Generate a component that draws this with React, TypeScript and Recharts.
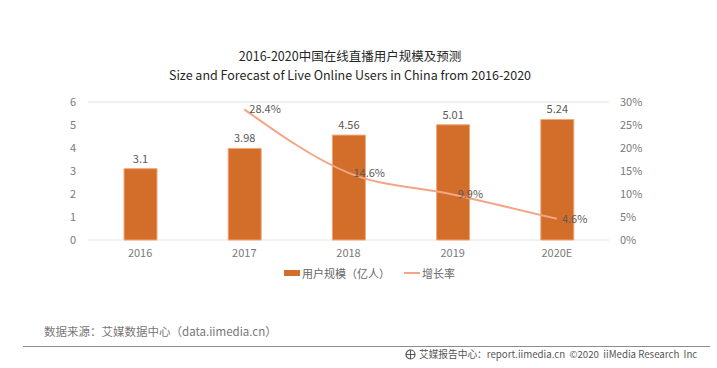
import React from 'react';
import { ComposedChart, Bar, Line, XAxis, YAxis, CartesianGrid, LabelList } from 'recharts';

const categories = ['2016', '2017', '2018', '2019', '2020E'];
const users = [3.1, 3.98, 4.56, 5.01, 5.24];
const growth: (number | null)[] = [null, 28.4, 14.6, 9.9, 4.6];
const leftTicks = [0, 1, 2, 3, 4, 5, 6];
const rightTicks = [0, 5, 10, 15, 20, 25, 30];

const data = categories.map((c, i) => ({ name: c, users: users[i], growth: growth[i] }));

const FONT = "'Noto Sans CJK SC', 'Noto Sans', sans-serif";
const BAR = '#D36D2A';
const LINE = '#F4A584';
const TICK = '#7a7a7a';

const LegendContent = () => (
  <div style={{ display: 'flex', alignItems: 'center', fontFamily: FONT, fontSize: 11, color: '#666' }}>
    <svg width={16} height={6} style={{ marginRight: 2 }}><rect x={0} y={0} width={16} height={6} fill={BAR} /></svg>
    <span>用户规模（亿人）</span>
    <svg width={16} height={6} style={{ marginLeft: 14, marginRight: 2 }}><line x1={0} y1={3} x2={16} y2={3} stroke={LINE} strokeWidth={2} /></svg>
    <span>增长率</span>
  </div>
);

export default function App() {
  return (
    <div style={{ position: 'absolute', left: 0, top: 0, width: 717, height: 368, background: '#fff', fontFamily: FONT }}>
      <div style={{ position: 'absolute', left: 0, width: 700, top: 48, textAlign: 'center', fontSize: 12.5, lineHeight: '15px', color: '#262626', whiteSpace: 'nowrap' }}>
        2016-2020中国在线直播用户规模及预测
      </div>
      <div style={{ position: 'absolute', left: 0, width: 700, top: 67, textAlign: 'center', fontSize: 12.5, lineHeight: '15px', color: '#262626', whiteSpace: 'nowrap' }}>
        Size and Forecast of Live Online Users in China from 2016-2020
      </div>
      <ComposedChart width={717} height={368} data={data} margin={{ top: 102, right: 58, bottom: 103, left: 58 }} barCategoryGap="34%">
        <CartesianGrid vertical={false} stroke="#E4E4E4" />
        <XAxis dataKey="name" axisLine={false} tickLine={false} tickSize={0} tickMargin={9} height={25} interval={0}
          tick={{ fontSize: 11, fill: TICK, fontFamily: FONT }} />
        <YAxis yAxisId="left" domain={[0, 6]} ticks={leftTicks} interval={0} width={30} axisLine={false} tickLine={false} tickSize={0} tickMargin={12}
          tick={{ fontSize: 11, fill: TICK, fontFamily: FONT }} />
        <YAxis yAxisId="right" orientation="right" domain={[0, 30]} ticks={rightTicks} interval={0} width={50} axisLine={false} tickLine={false} tickSize={0} tickMargin={11}
          tickFormatter={(v: number) => `${v}%`} tick={{ fontSize: 11, fill: TICK, fontFamily: FONT }} />
        <Bar yAxisId="left" dataKey="users" fill={BAR} stroke="#F2A777" strokeWidth={1} barSize={33} isAnimationActive={false}>
          <LabelList dataKey="users" position="top" offset={6} style={{ fontSize: 11, fill: '#595959', fontFamily: FONT }} />
        </Bar>
        <Line yAxisId="right" dataKey="growth" type="monotone" stroke={LINE} strokeWidth={2} dot={false} connectNulls isAnimationActive={false}>
          <LabelList dataKey="growth" position="right" offset={5} formatter={(v: any) => (v == null ? '' : `${v}%`)}
            style={{ fontSize: 11, fill: '#595959', fontFamily: FONT }} />
        </Line>
      </ComposedChart>
      <div style={{ position: 'absolute', left: 284, top: 265 }}>
        <LegendContent />
      </div>
      <div style={{ position: 'absolute', left: 44, top: 323, fontSize: 11.5, color: '#777', whiteSpace: 'nowrap' }}>
        数据来源：艾媒数据中心（data.iimedia.cn）
      </div>
      <div style={{ position: 'absolute', left: 23, top: 346, width: 687, height: 1, background: '#8c8c8c' }} />
      <div style={{ position: 'absolute', left: 405, top: 347, fontSize: 9.7, color: '#555', whiteSpace: 'nowrap', display: 'flex', alignItems: 'center' }}>
        <svg width={11} height={11} style={{ marginRight: 3 }}>
          <circle cx={5.5} cy={5.5} r={4.5} fill="none" stroke="#555" strokeWidth={1.2} />
          <line x1={1} y1={5.5} x2={10} y2={5.5} stroke="#555" strokeWidth={1} />
          <line x1={5.5} y1={1} x2={5.5} y2={10} stroke="#555" strokeWidth={1} />
        </svg>
        <span>艾媒报告中心：report.iimedia.cn&nbsp;&nbsp;©2020&nbsp;&nbsp;iiMedia Research&nbsp;&nbsp;Inc</span>
      </div>
    </div>
  );
}
